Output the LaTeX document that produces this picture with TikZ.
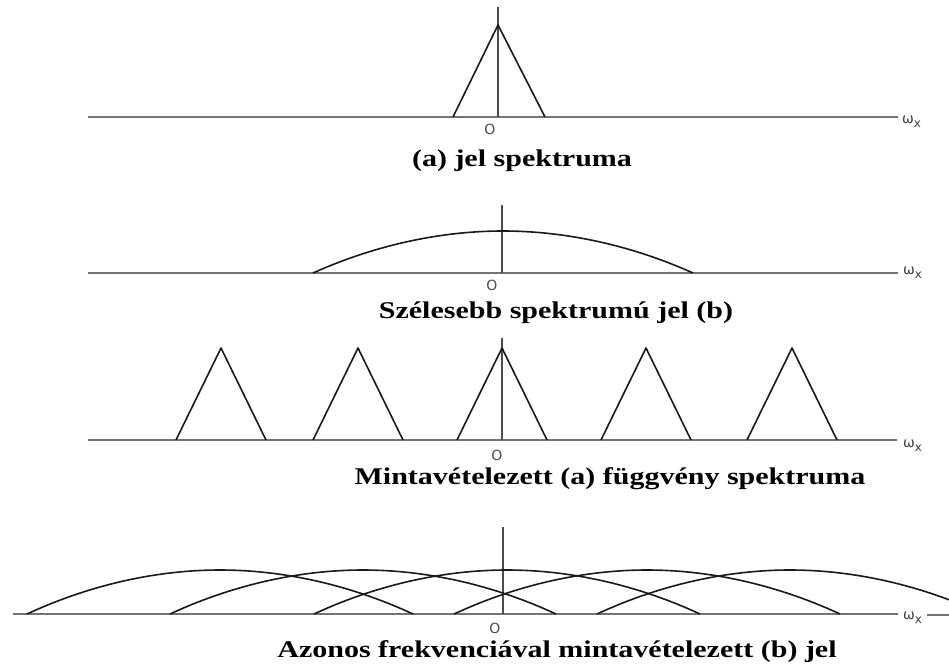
\documentclass[tikz,border=0pt]{standalone}
\usepackage{graphicx}
\usepackage{fontspec}
\setmainfont{Liberation Serif}
\newfontfamily\lblfont{DejaVu Sans}
\begin{document}
\begin{tikzpicture}[x=1pt,y=-1pt,
  axis/.style={draw=black!55, line width=1.1pt},
  curve/.style={draw=black!90, line width=1.6pt, line join=round},
  vline/.style={draw=black!70, line width=1.1pt},
  captxt/.style={anchor=base, inner sep=0pt, font=\fontsize{24}{28}\selectfont\bfseries},
  zero/.style={inner sep=0pt, font=\lblfont\fontsize{14}{14}\selectfont, text=black!70},
  wlbl/.style={inner sep=0pt, anchor=west, font=\lblfont\fontsize{14}{14}\selectfont, text=black!75}]
\fill[white] (0,0) rectangle (949,668);
\useasboundingbox (0,0) rectangle (949,668);
\clip (0,0) rectangle (949,668);

% ---------- panel 1
\coordinate (a1l) at (88,117);
\coordinate (a1r) at (898,117);
\draw[axis] (a1l) -- (a1r);
\draw[vline] (498,7) -- (498,117);
\draw[curve] (453,117) -- (498,25) -- (545,117);
\node[zero] (z1) at (490,129) {O};
\node[wlbl] (w1) at (902,122) {ω\raisebox{-4pt}{\fontsize{12}{12}\selectfont x}};
\node[captxt] (c1) at (522,167) {\scalebox{1.25}[1]{(a) jel spektruma}};

% ---------- panel 2
\draw[axis] (88,273) -- (898,273);
\draw[vline] (502,205) -- (502,273);
\draw[curve] (313,273) parabola bend (503,231) (693,273);
\node[zero] (z2) at (492,285) {O};
\node[wlbl] (w2) at (903,273) {ω\raisebox{-4pt}{\fontsize{12}{12}\selectfont x}};
\node[captxt] (c2) at (556,318) {\scalebox{1.25}[1]{Szélesebb spektrumú jel (b)}};

% ---------- panel 3
\draw[axis] (88,440) -- (897,440);
\draw[vline] (502,338) -- (502,440);
\foreach \c in {221,358,502,646,792}{
  \draw[curve] (\c-45,440) -- (\c,348) -- (\c+45,440);
}
\node[zero] (z3) at (497,455) {O};
\node[wlbl] (w3) at (903,446) {ω\raisebox{-4pt}{\fontsize{12}{12}\selectfont x}};
\node[captxt] (c3) at (610,484) {\scalebox{1.25}[1]{Mintavételezett (a) függvény spektruma}};

% ---------- panel 4
\draw[axis] (13,614) -- (898,614);
\draw[axis] (927,615) -- (949,615);
\draw[vline] (503,527) -- (503,614);
\foreach \c in {220,363,507,647,790}{
  \draw[curve] (\c-193,614) parabola bend (\c,570) (\c+193,614);
}
\node[zero] (z4) at (495,628) {O};
\node[wlbl] (w4) at (903,618) {ω\raisebox{-4pt}{\fontsize{12}{12}\selectfont x}};
\node[captxt] (c4) at (557,657) {\scalebox{1.25}[1]{Azonos frekvenciával mintavételezett (b) jel}};
\end{tikzpicture}
\end{document}
